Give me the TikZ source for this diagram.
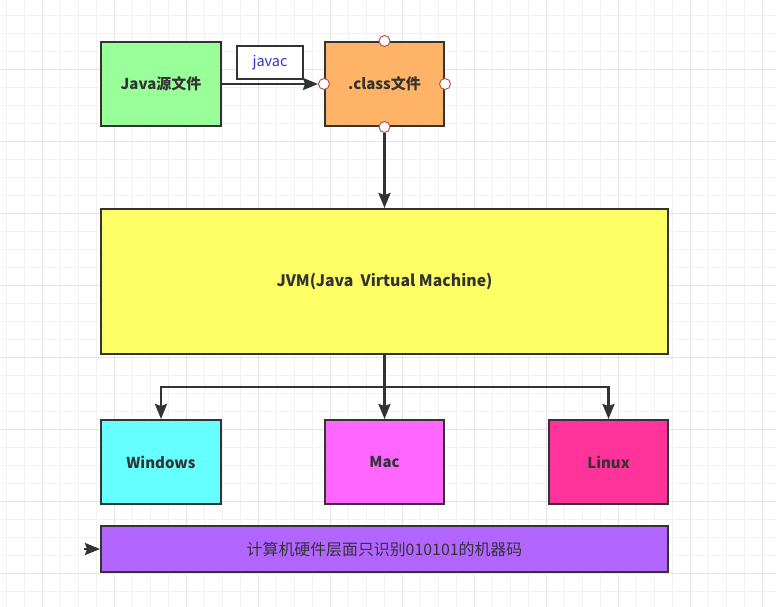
\documentclass[tikz,border=0pt]{standalone}
\usepackage{fontspec}
\setmainfont{Noto Sans CJK SC}
\usetikzlibrary{arrows.meta}

\definecolor{GridMinor}{HTML}{F2F2F2}
\definecolor{GridMajor}{HTML}{E4E4E4}
\definecolor{BoxLine}{HTML}{333333}
\definecolor{BoxGreen}{HTML}{99FF99}
\definecolor{BoxOrange}{HTML}{FFB366}
\definecolor{BoxYellow}{HTML}{FFFF66}
\definecolor{BoxCyan}{HTML}{66FFFF}
\definecolor{BoxMagenta}{HTML}{FF66FF}
\definecolor{BoxPink}{HTML}{FF3399}
\definecolor{BoxPurple}{HTML}{B266FF}
\definecolor{LabelBlue}{HTML}{3333CC}
\definecolor{PortRed}{HTML}{B85450}

\tikzstyle{box}=[rectangle, draw={BoxLine}, line width=2pt, text={BoxLine}, inner sep=0pt,
      font=\fontsize{15}{18}\selectfont\bfseries]
\tikzstyle{port}=[circle, draw={PortRed}, fill=white, line width=1pt, minimum size=11pt, inner sep=0pt]
\tikzstyle{flow}=[draw={BoxLine}, line width=2.5pt, -{Stealth[length=15pt, width=12pt, inset=2pt]}]

\begin{document}
\begin{tikzpicture}[x=1pt, y=-1pt]
      \useasboundingbox (0,0) rectangle (776,607);
      \fill[white] (0,0) rectangle (776,607);
      % grid
      \foreach \gx in {6.7, 24.7, ..., 776} \draw[GridMinor, line width=1pt] (\gx, 0) -- (\gx, 607);
      \foreach \gy in {15.3, 33.3, ..., 607} \draw[GridMinor, line width=1pt] (0, \gy) -- (776, \gy);
      \foreach \gx in {42.7, 114.7, ..., 776} \draw[GridMajor, line width=1pt] (\gx, 0) -- (\gx, 607);
      \foreach \gy in {69.3, 141.3, ..., 607} \draw[GridMajor, line width=1pt] (0, \gy) -- (776, \gy);

      % boxes
      \node (java) at (161, 84)
            [box, fill={BoxGreen}, minimum width=120pt, minimum height=84pt] {Java源文件};
      \node (class) at (384.5, 84)
            [box, fill={BoxOrange}, minimum width=119pt, minimum height=84pt] {.class文件};
      \node (javac) at (270, 62.5)
            [box, fill=white, minimum width=66pt, minimum height=33pt,
             font=\fontsize{14.5}{17}\selectfont, text={LabelBlue}] {javac};
      \node (jvm) at (384.5, 281.5)
            [box, fill={BoxYellow}, minimum width=567pt, minimum height=145pt,
             font=\fontsize{15.8}{18}\selectfont\bfseries] {JVM(Java\ \ Virtual Machine)};
      \node (win) at (161, 462)
            [box, fill={BoxCyan}, minimum width=120pt, minimum height=84pt] {Windows};
      \node (mac) at (384.5, 462)
            [box, fill={BoxMagenta}, minimum width=119pt, minimum height=84pt] {Mac};
      \node (linux) at (608.5, 462)
            [box, fill={BoxPink}, minimum width=119pt, minimum height=84pt] {Linux};
      \node (hw) at (384.5, 549)
            [box, fill={BoxPurple}, minimum width=567pt, minimum height=46pt,
             font=\fontsize{15.9}{18}\selectfont] {计算机硬件层面只识别010101的机器码};

      % ports on the class box
      \node (port-n) at (class.north) [port] {};
      \node (port-w) at (class.west) [port] {};
      \node (port-e) at (class.east) [port] {};
      \node (port-s) at (class.south) [port] {};

      % connectors
      \coordinate (branch) at (384.5, 387);
      \coordinate (hw-in) at (84, 549);
      \draw[flow] (java.east) -- (port-w.west);
      \draw[flow] (port-s.south) -- (jvm.north);
      \draw[flow] (jvm.south) -- (mac.north);
      \draw[flow] (branch) -| (win.north);
      \draw[flow] (branch) -| (linux.north);
      \draw[flow] (hw-in) -- (hw.west);
\end{tikzpicture}
\end{document}
